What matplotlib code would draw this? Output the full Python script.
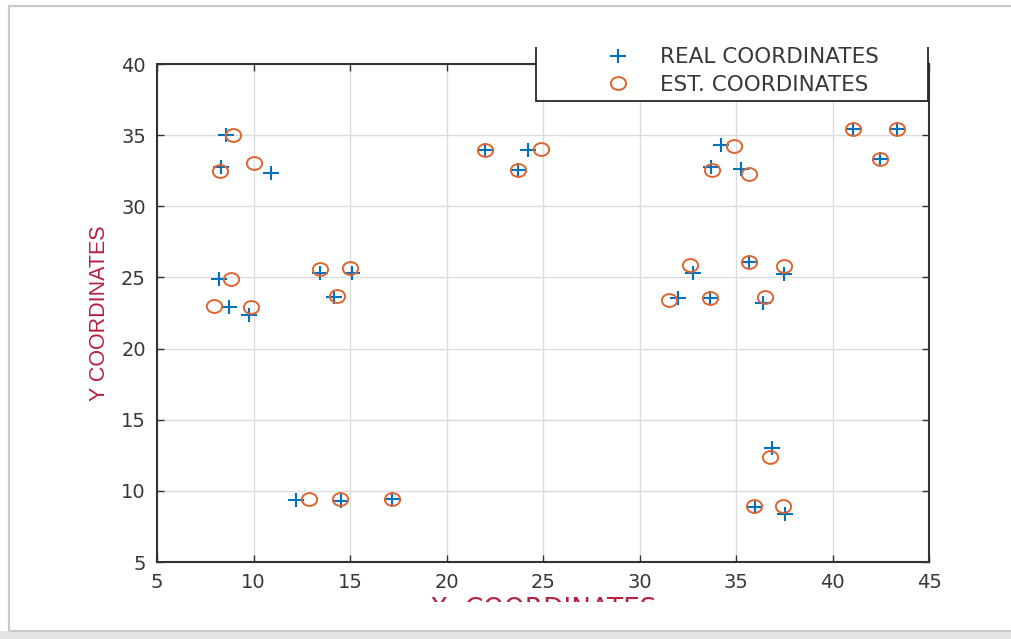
import numpy as np
import matplotlib
matplotlib.use("Agg")
import matplotlib.pyplot as plt
from matplotlib.path import Path
from matplotlib.markers import MarkerStyle
from matplotlib.transforms import Affine2D
from matplotlib.patches import Rectangle
from matplotlib.lines import Line2D

# ---- data ----
real_x = [8.58, 8.32, 10.90, 8.20, 8.73, 9.77, 13.45, 15.10, 14.17, 12.20, 14.53, 17.18,
          21.99, 24.22, 23.70, 34.22, 33.70, 35.26, 41.08, 43.36, 42.46,
          32.75, 35.65, 37.47, 31.98, 33.65, 36.40, 36.88, 36.00, 37.56]
real_y = [35.00, 32.76, 32.34, 24.89, 22.92, 22.36, 25.30, 25.30, 23.63, 9.36, 9.29, 9.43,
          33.96, 33.96, 32.55, 34.29, 32.78, 32.60, 35.41, 35.41, 33.30,
          25.29, 26.11, 25.22, 23.53, 23.58, 23.18, 12.99, 8.85, 8.35]
est_x = [8.94, 8.26, 10.03, 8.83, 7.95, 9.87, 13.45, 15.00, 14.33, 12.88, 14.48, 17.18,
         21.99, 24.90, 23.70, 34.90, 33.77, 35.69, 41.08, 43.36, 42.46,
         32.60, 35.65, 37.49, 31.53, 33.65, 36.52, 36.78, 35.95, 37.44]
est_y = [35.00, 32.48, 33.04, 24.89, 23.00, 22.92, 25.60, 25.66, 23.70, 9.43, 9.43, 9.43,
         33.96, 34.03, 32.55, 34.24, 32.55, 32.29, 35.41, 35.41, 33.30,
         25.87, 26.11, 25.80, 23.42, 23.58, 23.65, 12.36, 8.92, 8.96]

x_ticks = [5, 10, 15, 20, 25, 30, 35, 40, 45]
y_ticks = [5, 10, 15, 20, 25, 30, 35, 40]
legend_labels = ["REAL COORDINATES", "EST. COORDINATES"]
x_label = "X  COORDINATES"
y_label = "Y COORDINATES"

BLUE = "#0072BD"
ORANGE = "#DE6430"
AXC = "#333333"

W, H = 1011, 639
fig = plt.figure(figsize=(W / 100, H / 100), dpi=100)
fig.patch.set_facecolor("white")

def fx(px):
    return px / W

def fy(py):
    return 1 - py / H

ax = fig.add_axes([fx(157), fy(562), fx(929) - fx(157), fy(64) - fy(562)])

# slightly squashed markers (reference is stretched horizontally)
plus_path = Path([[-0.5, 0], [0.5, 0], [0, -0.44], [0, 0.44]],
                 [Path.MOVETO, Path.LINETO, Path.MOVETO, Path.LINETO])
ell_path = Path.unit_circle().transformed(Affine2D().scale(1.0, 0.84))
plus_m = MarkerStyle(plus_path)
ell_m = MarkerStyle(ell_path)

ax.plot(real_x, real_y, linestyle="none", marker=plus_m, markersize=11,
        markeredgewidth=1.5, color=BLUE, label=legend_labels[0], zorder=3)
ax.plot(est_x, est_y, linestyle="none", marker=ell_m, markersize=11,
        markeredgewidth=1.4, markerfacecolor="none", markeredgecolor=ORANGE,
        label=legend_labels[1], zorder=3)

ax.set_xlim(5, 45)
ax.set_ylim(5, 40)
ax.set_xticks(x_ticks)
ax.set_yticks(y_ticks)
ax.grid(True, color="#dcdcdc", linewidth=1.0)
ax.set_axisbelow(True)
for s in ax.spines.values():
    s.set_color(AXC)
    s.set_linewidth(1.5)
ax.tick_params(direction="in", length=5, width=1.0, color=AXC,
               top=True, right=True, labelsize=14, labelcolor="#383838", pad=8)
for t in ax.get_xticklabels() + ax.get_yticklabels():
    t.set_family("DejaVu Sans")

ax.set_ylabel(y_label, color="#B5213F", fontsize=15.5,
              family=["Liberation Sans", "DejaVu Sans"], labelpad=8)
ax.set_xlabel(x_label, color="#B5213F", fontsize=19, family=["DejaVu Sans"])
ax.xaxis.set_label_coords(0.5, -(597 - 562) / (562 - 64))

# legend box (white, drawn over the axes top)
lb = Rectangle((fx(536), fy(101)), fx(928) - fx(536), fy(20) - fy(101),
               transform=fig.transFigure, facecolor="white", edgecolor="#262626",
               linewidth=1.3, zorder=20)
fig.patches.append(lb)
handles = [Line2D([], [], linestyle="none", marker=plus_m, markersize=11,
                  markeredgewidth=1.5, color=BLUE),
           Line2D([], [], linestyle="none", marker=ell_m, markersize=11,
                  markeredgewidth=1.4, markerfacecolor="none", markeredgecolor=ORANGE)]
leg = fig.legend(handles, legend_labels, loc="center left",
                 bbox_to_anchor=(fx(596.5), fy(71)), frameon=False, borderpad=0,
                 borderaxespad=0, handlelength=2.0, handletextpad=0.95,
                 labelspacing=0.36, prop={"family": "DejaVu Sans", "size": 15.5})
leg.set_zorder(25)
for t in leg.get_texts():
    t.set_color("#383838")

# white masks that crop the legend top and the x label, as in the screenshot
fig.patches.append(Rectangle((fx(10), fy(47)), fx(1011) - fx(10), fy(8) - fy(47),
                             transform=fig.transFigure, facecolor="white",
                             edgecolor="none", zorder=30))
fig.patches.append(Rectangle((fx(10), fy(629)), fx(1011) - fx(10), fy(602) - fy(629),
                             transform=fig.transFigure, facecolor="white",
                             edgecolor="none", zorder=30))
# outer screenshot frame with shadow
fig.patches.append(Rectangle((fx(0), fy(639)), 1, fy(631) - fy(639),
                             transform=fig.transFigure, facecolor="#e4e4e4",
                             edgecolor="none", zorder=31))
fig.patches.append(Rectangle((fx(8.5), fy(631)), fx(1030) - fx(8.5), fy(6) - fy(631),
                             transform=fig.transFigure, facecolor="none",
                             edgecolor="#c9c9c9", linewidth=1.6, zorder=32))

fig.savefig("out.png", dpi=100)
